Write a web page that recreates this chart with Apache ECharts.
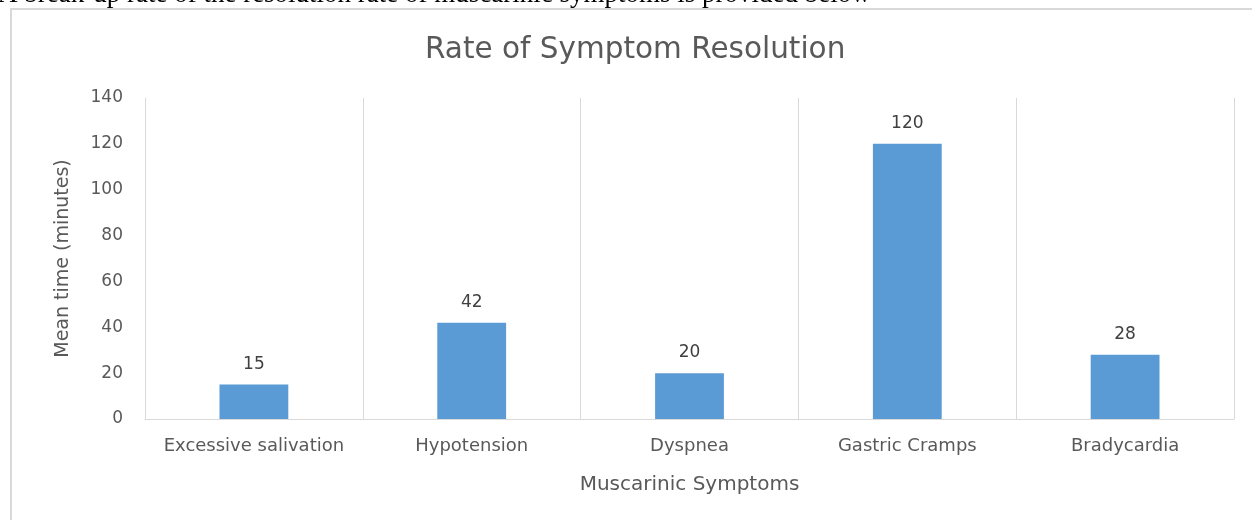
<!DOCTYPE html>
<html>
<head>
<meta charset="utf-8">
<script src="https://cdn.jsdelivr.net/npm/echarts@6/dist/echarts.min.js"></script>
<style>html,body{margin:0;padding:0;background:#fff}#c{width:1252px;height:520px}</style>
</head>
<body>
<div id="c"></div>
<script>
var categories = ['Excessive salivation', 'Hypotension', 'Dyspnea', 'Gastric Cramps', 'Bradycardia'];
var meanTimes = [15, 42, 20, 120, 28];
var yTicks = { min: 0, max: 140, interval: 20 };
var titleText = 'Rate of Symptom Resolution';
var xAxisName = 'Muscarinic Symptoms';
var yAxisName = 'Mean time (minutes)';
var captionText = 'A break-up rate of the resolution rate of muscarinic symptoms is provided below';

var font = '"DejaVu Sans", "Noto Sans", sans-serif';
var chart = echarts.init(document.getElementById('c'), null, { renderer: 'canvas' });
chart.setOption({
  animation: false,
  backgroundColor: '#fff',
  title: {
    text: titleText, left: 420, top: 30,
    textStyle: { fontFamily: font, fontSize: 29.5, fontWeight: 'normal', color: '#595959' }
  },
  graphic: [
    { type: 'rect', shape: { x: 11, y: 9, width: 1300, height: 600 },
      style: { fill: 'none', stroke: '#d9d9d9', lineWidth: 2 } },
    { type: 'text', left: -2, top: -19,
      style: { text: captionText, font: '27px "Liberation Serif", serif', fill: '#000' } }
  ],
  grid: { left: 145, right: 18, top: 98, bottom: 101, containLabel: false },
  xAxis: {
    type: 'category', data: categories,
    name: xAxisName, nameLocation: 'middle', nameGap: 56,
    nameTextStyle: { fontFamily: font, fontSize: 20, color: '#595959' },
    axisLine: { show: true, lineStyle: { color: '#d9d9d9', width: 1 } },
    axisTick: { show: false },
    axisLabel: { interval: 0, fontFamily: font, fontSize: 18, color: '#595959', margin: 18 },
    splitLine: { show: true, interval: 0, lineStyle: { color: '#d9d9d9', width: 1 } }
  },
  yAxis: {
    type: 'value', min: yTicks.min, max: yTicks.max, interval: yTicks.interval,
    name: yAxisName, nameLocation: 'middle', nameGap: 72,
    nameTextStyle: { fontFamily: font, fontSize: 19, color: '#595959' },
    axisLine: { show: true, lineStyle: { color: '#d9d9d9', width: 1 } },
    axisTick: { show: false },
    axisLabel: { fontFamily: font, fontSize: 17, color: '#595959', margin: 22 },
    splitLine: { show: false }
  },
  series: [{
    type: 'bar', data: meanTimes, barWidth: '31.6%',
    itemStyle: { color: '#5b9bd5' },
    label: { show: true, position: 'top', distance: 12, fontFamily: font, fontSize: 17, color: '#404040' }
  }]
});
</script>
</body>
</html>
